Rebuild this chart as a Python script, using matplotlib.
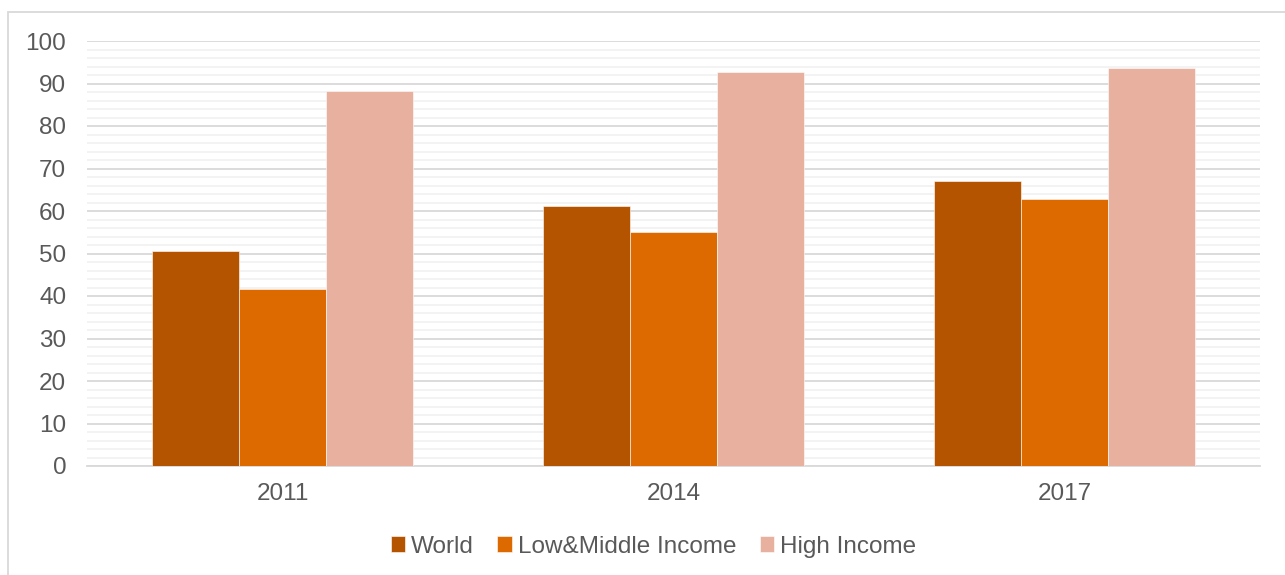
import matplotlib.pyplot as plt
import numpy as np
from matplotlib.patches import Rectangle
from matplotlib.ticker import MultipleLocator

plt.rcParams['font.family'] = ['Liberation Sans', 'DejaVu Sans']

# Account ownership (% of adults), by survey year
years = ['2011', '2014', '2017']
world = [50.6, 61.2, 67.1]
low_middle = [41.7, 55.0, 62.9]
high_income = [88.3, 92.8, 93.7]

series = [('World', world, '#b55400'),
          ('Low&Middle Income', low_middle, '#dc6a00'),
          ('High Income', high_income, '#e8b09f')]

W, H = 1285, 575
fig = plt.figure(figsize=(W / 100, H / 100), dpi=100)
ax = fig.add_axes([87 / W, 1 - 466 / H, (1260 - 87) / W, (466 - 41) / H])

x = np.arange(len(years))
width = 0.2225
for i, (name, vals, color) in enumerate(series):
    ax.bar(x + (i - 1) * width, vals, width, color=color, label=name,
           edgecolor='white', linewidth=0.4, zorder=3)

ax.set_xlim(-0.5, len(years) - 0.5)
ax.set_ylim(0, 100)
ax.yaxis.set_major_locator(MultipleLocator(10))
ax.yaxis.set_minor_locator(MultipleLocator(2))
ax.grid(axis='y', which='major', color='#d9d9d9', linewidth=1.3, zorder=0)
ax.grid(axis='y', which='minor', color='#f2f2f2', linewidth=1.3, zorder=0)
ax.set_xticks(x)
ax.set_xticklabels(years)
ax.tick_params(axis='both', which='both', length=0, labelsize=17.5,
               labelcolor='#595959')
ax.tick_params(axis='x', pad=12)
ax.tick_params(axis='y', pad=15)
for side in ['top', 'right', 'left']:
    ax.spines[side].set_visible(False)
ax.spines['bottom'].set_color('#d9d9d9')
ax.spines['bottom'].set_linewidth(1.3)

ax.legend(loc='center', bbox_to_anchor=(0.483, -0.19), ncol=3, frameon=False,
          fontsize=17.5, labelcolor='#595959', handlelength=0.6,
          handleheight=0.6, handletextpad=0.25, columnspacing=0.95)

# light chart-area frame
fig.add_artist(Rectangle((8 / W, -0.2), 1.2, 1.2 - 12 / H,
                         transform=fig.transFigure, fill=False,
                         edgecolor='#d9d9d9', linewidth=1.3))

fig.savefig('out.png', dpi=100)
